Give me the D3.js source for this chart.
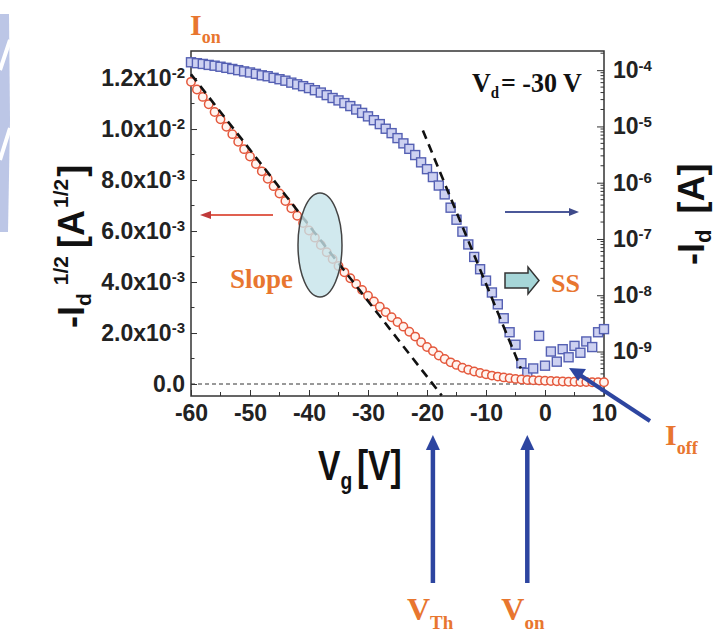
<!DOCTYPE html>
<html>
<head>
<meta charset="utf-8">
<script src="https://cdn.jsdelivr.net/npm/d3@7"></script>
<style>
  body { margin: 0; background: #fff; }
  svg text { font-family: "Liberation Sans", Arial, sans-serif; font-weight: bold; }
  svg text.serif { font-family: "Liberation Serif", "Times New Roman", serif; }
</style>
</head>
<body>
<script>

// ---------- data

// gate voltage sweep [V]
var vg = [-60, -59, -58, -57, -56, -55, -54, -53, -52, -51,
          -50, -49, -48, -47, -46, -45, -44, -43, -42, -41,
          -40, -39, -38, -37, -36, -35, -34, -33, -32, -31,
          -30, -29, -28, -27, -26, -25, -24, -23, -22, -21,
          -20, -19, -18, -17, -16, -15, -14, -13, -12, -11,
          -10,  -9,  -8,  -7,  -6,  -5,  -4,  -3,  -2,  -1,
            0,   1,   2,   3,   4,   5,   6,   7,   8,   9, 10];

// -Id^(1/2) [A^1/2], left axis (red circles)
var sqrtId = [11.85e-3, 11.55e-3, 11.26e-3, 10.97e-3, 10.67e-3, 10.38e-3, 10.09e-3, 9.80e-3, 9.50e-3, 9.21e-3,
              8.92e-3, 8.63e-3, 8.34e-3, 8.05e-3, 7.76e-3, 7.47e-3, 7.18e-3, 6.89e-3, 6.60e-3, 6.31e-3,
              6.02e-3, 5.74e-3, 5.45e-3, 5.17e-3, 4.90e-3, 4.63e-3, 4.38e-3, 4.15e-3, 3.92e-3, 3.69e-3,
              3.46e-3, 3.24e-3, 3.03e-3, 2.82e-3, 2.62e-3, 2.43e-3, 2.25e-3, 2.05e-3, 1.86e-3, 1.64e-3,
              1.45e-3, 1.29e-3, 1.12e-3, 0.98e-3, 0.85e-3, 0.75e-3, 0.64e-3, 0.56e-3, 0.49e-3, 0.43e-3,
              0.38e-3, 0.33e-3, 0.29e-3, 0.26e-3, 0.23e-3, 0.20e-3, 0.18e-3, 0.16e-3, 0.15e-3, 0.14e-3,
              0.13e-3, 0.12e-3, 0.11e-3, 0.10e-3, 0.09e-3, 0.09e-3, 0.08e-3, 0.08e-3, 0.07e-3, 0.07e-3, 0.07e-3];

// -Id [A], right log axis (blue squares)
var id = [1.38e-4, 1.33e-4, 1.29e-4, 1.24e-4, 1.20e-4, 1.15e-4, 1.10e-4, 1.05e-4, 1.00e-4, 9.5e-5,
          9.1e-5, 8.6e-5, 8.1e-5, 7.8e-5, 7.3e-5, 6.9e-5, 6.5e-5, 6.0e-5, 5.6e-5, 5.2e-5,
          4.8e-5, 4.4e-5, 4.0e-5, 3.6e-5, 3.2e-5, 2.9e-5, 2.6e-5, 2.3e-5, 2.0e-5, 1.74e-5,
          1.51e-5, 1.29e-5, 1.10e-5, 9.1e-6, 7.6e-6, 6.2e-6, 5.0e-6, 4.0e-6, 3.1e-6, 2.3e-6,
          1.74e-6, 1.26e-6, 8.9e-7, 6.2e-7, 3.6e-7, 2.2e-7, 1.35e-7, 8.0e-8, 4.8e-8, 2.9e-8,
          1.82e-8, 1.12e-8, 6.9e-9, 3.9e-9, 2.2e-9, 1.32e-9, 6.2e-10, 4.2e-10, 5.0e-10, 1.9e-9,
          5.6e-10, 1.0e-9, 6.6e-10, 1.1e-9, 7.9e-10, 1.26e-9, 9.5e-10, 1.51e-9, 1.2e-9, 2.2e-9, 2.5e-9];

// fitted lines: linear fit of sqrt(Id) and subthreshold fit of log(Id)
var fitSqrt = [[-60, 12.15e-3], [-17.5, -0.45e-3]];
var fitSS = [[-20.7, 8.5e-6], [-4.1, 5.0e-10]];
var vTh = -19;
var vOn = -3;

// ticks
var xTicks = [-60, -50, -40, -30, -20, -10, 0, 10];
var xMinor = [-55, -45, -35, -25, -15, -5, 5];
var leftTicks = [0, 2e-3, 4e-3, 6e-3, 8e-3, 1.0e-2, 1.2e-2];
var leftMant = ["0.0", "2.0x10", "4.0x10", "6.0x10", "8.0x10", "1.0x10", "1.2x10"];
var leftExp = ["", "-3", "-3", "-3", "-3", "-2", "-2"];
var leftMinor = [1e-3, 3e-3, 5e-3, 7e-3, 9e-3, 1.1e-2];
var rightTicks = [1e-4, 1e-5, 1e-6, 1e-7, 1e-8, 1e-9];
var rightExp = ["-4", "-5", "-6", "-7", "-8", "-9"];

// ---------- layout
var w = 728, h = 634;
var orange = "#e8762f";

var svg = d3.select("body").append("svg")
            .attr("width", w)
            .attr("height", h);

var xScale = d3.scaleLinear().domain([-60, 10]).range([191, 604]);
var yLeft = d3.scaleLinear().domain([-0.47e-3, 13.06e-3]).range([396, 51]);
var yRight = d3.scaleLog().domain([1.62e-10, 2.19e-4]).range([396, 51]);

// watermark strip on the left edge
svg.append("path")
   .attr("d", "M0,14 L9,14 L10,120 L8,232 L0,232 Z")
   .attr("fill", "#bcc6e6");
svg.append("path")
   .attr("d", "M0,70 L10,40 M0,160 L10,128")
   .attr("stroke", "#fff").attr("stroke-width", 4);

// frame
svg.append("rect")
   .attr("x", 191).attr("y", 51)
   .attr("width", 413).attr("height", 345)
   .attr("fill", "none")
   .attr("stroke", "#333")
   .attr("stroke-width", 1.5);

// bottom axis
var gx = svg.append("g")
   .attr("transform", "translate(0,396)")
   .call(d3.axisBottom(xScale).tickValues(xTicks).tickSize(-6).tickPadding(9).tickFormat(d3.format("d")));
gx.selectAll(".tick text").attr("font-size", 23).attr("fill", "#222")
  .text(function(d) { return d < 0 ? "-" + Math.abs(d) : d; });
gx.append("g").selectAll("line").data(xMinor).enter().append("line")
  .attr("x1", function(d) { return xScale(d); }).attr("x2", function(d) { return xScale(d); })
  .attr("y1", 0).attr("y2", -4).attr("stroke", "#333");

// left axis
var gl = svg.append("g")
   .attr("transform", "translate(191,0)")
   .call(d3.axisLeft(yLeft).tickValues(leftTicks).tickSize(-6).tickPadding(6));
gl.selectAll(".tick text").attr("font-size", 23).attr("fill", "#222").text(null)
  .each(function(d, i) {
    var t = d3.select(this);
    t.append("tspan").text(leftMant[i]);
    if (leftExp[i]) t.append("tspan").attr("dy", "-0.5em").attr("font-size", 15).text(leftExp[i]);
  });
gl.append("g").selectAll("line").data(leftMinor).enter().append("line")
  .attr("y1", function(d) { return yLeft(d); }).attr("y2", function(d) { return yLeft(d); })
  .attr("x1", 0).attr("x2", 3.5).attr("stroke", "#333");

// right log axis
var gr = svg.append("g")
   .attr("transform", "translate(604,0)")
   .call(d3.axisRight(yRight).tickValues(rightTicks).tickSize(-7).tickPadding(9));
gr.selectAll(".tick text").attr("font-size", 23).attr("fill", "#222").text(null)
  .each(function(d, i) {
    var t = d3.select(this);
    t.append("tspan").text("10");
    t.append("tspan").attr("dy", "-0.5em").attr("font-size", 15).text(rightExp[i]);
  });
var rightMinor = [];
[1e-10, 1e-9, 1e-8, 1e-7, 1e-6, 1e-5, 1e-4].forEach(function(dec) {
  [2, 3, 4, 5, 6, 7, 8, 9].forEach(function(m) {
    var v = dec * m;
    if (v > yRight.domain()[0] && v < yRight.domain()[1]) rightMinor.push(v);
  });
});
gr.append("g").selectAll("line").data(rightMinor).enter().append("line")
  .attr("y1", function(d) { return yRight(d); }).attr("y2", function(d) { return yRight(d); })
  .attr("x1", 0).attr("x2", -3.5).attr("stroke", "#333");

[gx, gl, gr].forEach(function(g) {
  g.select(".domain").remove();
  g.selectAll(".tick line").attr("stroke", "#333");
});

// zero line
svg.append("line")
   .attr("x1", 191).attr("x2", 604)
   .attr("y1", yLeft(0)).attr("y2", yLeft(0))
   .attr("stroke", "#333")
   .attr("stroke-dasharray", "4,3");

// blue squares (log Id)
var sq = 9;
svg.append("g").selectAll("rect")
   .data(vg)
   .enter()
   .append("rect")
   .attr("x", function(d) { return xScale(d) - sq / 2; })
   .attr("y", function(d, i) { return yRight(id[i]) - sq / 2; })
   .attr("width", sq).attr("height", sq)
   .attr("fill", "#cdd1f1")
   .attr("stroke", "#5560b3")
   .attr("stroke-width", 1.4);

// red circles (sqrt Id)
svg.append("g").selectAll("circle")
   .data(vg)
   .enter()
   .append("circle")
   .attr("cx", function(d) { return xScale(d); })
   .attr("cy", function(d, i) { return yLeft(sqrtId[i]); })
   .attr("r", 4.2)
   .attr("fill", "#fff4f0")
   .attr("stroke", "#e4583c")
   .attr("stroke-width", 1.5);

// fit lines
var lineL = d3.line().x(function(d) { return xScale(d[0]); }).y(function(d) { return yLeft(d[1]); });
var lineR = d3.line().x(function(d) { return xScale(d[0]); }).y(function(d) { return yRight(d[1]); });
svg.append("path").attr("d", lineL(fitSqrt))
   .attr("fill", "none").attr("stroke", "#111").attr("stroke-width", 2.6).attr("stroke-dasharray", "9,6");
svg.append("path").attr("d", lineR(fitSS))
   .attr("fill", "none").attr("stroke", "#111").attr("stroke-width", 2.6).attr("stroke-dasharray", "9,6");

// ---------- annotations

// slope ellipse
svg.append("ellipse")
   .attr("cx", 320).attr("cy", 245).attr("rx", 22).attr("ry", 52)
   .attr("fill", "#c6e4ea").attr("fill-opacity", 0.8)
   .attr("stroke", "#444").attr("stroke-width", 1.5);

svg.append("text").attr("class", "serif")
   .attr("x", 230).attr("y", 288)
   .attr("font-size", 27).attr("fill", orange)
   .text("Slope");

// small left / right arrows
svg.append("line").attr("x1", 273).attr("x2", 206).attr("y1", 215).attr("y2", 215)
   .attr("stroke", "#e06050").attr("stroke-width", 2);
svg.append("path").attr("d", "M200,215 L211,211 L211,219 Z").attr("fill", "#c03a3a");
svg.append("line").attr("x1", 505).attr("x2", 572).attr("y1", 212).attr("y2", 212)
   .attr("stroke", "#4b5899").attr("stroke-width", 2);
svg.append("path").attr("d", "M579,212 L569,208 L569,216 Z").attr("fill", "#3e4a8a");

// SS block arrow
svg.append("path")
   .attr("d", "M505,273 L528,273 L528,267 L539,280.5 L528,294 L528,288 L505,288 Z")
   .attr("fill", "#a6d6d8").attr("stroke", "#333").attr("stroke-width", 1.5);
svg.append("text").attr("class", "serif")
   .attr("x", 551).attr("y", 292)
   .attr("font-size", 26).attr("fill", orange)
   .text("SS");

// Vd label
var vd = svg.append("text").attr("class", "serif")
   .attr("transform", "translate(472,92) scale(0.93,1)")
   .attr("font-size", 28).attr("fill", "#111");
vd.append("tspan").text("V");
vd.append("tspan").attr("font-size", 16).attr("dy", 6).text("d");
vd.append("tspan").attr("dy", -6).attr("dx", 2).text("= -30 V");

// Ion
var ion = svg.append("text").attr("class", "serif")
   .attr("x", 190).attr("y", 35).attr("font-size", 30).attr("fill", orange);
ion.append("tspan").text("I");
ion.append("tspan").attr("font-size", 18).attr("dy", 8).text("on");

// Ioff arrow + label
svg.append("line").attr("x1", 650).attr("y1", 421).attr("x2", 580).attr("y2", 375)
   .attr("stroke", "#2d45a0").attr("stroke-width", 4);
svg.append("path").attr("d", "M569,368 L586,369 L578,381 Z").attr("fill", "#2d45a0");
var ioff = svg.append("text").attr("class", "serif")
   .attr("x", 665).attr("y", 445).attr("font-size", 30).attr("fill", orange);
ioff.append("tspan").text("I");
ioff.append("tspan").attr("font-size", 18).attr("dy", 9).text("off");

// Vth / Von arrows
[[vTh, "Th"], [vOn, "on"]].forEach(function(a) {
  var x = xScale(a[0]);
  svg.append("line").attr("x1", x).attr("x2", x).attr("y1", 583).attr("y2", 447)
     .attr("stroke", "#2d45a0").attr("stroke-width", 4.5);
  svg.append("path").attr("d", "M" + x + ",435 L" + (x + 7) + ",450 L" + (x - 7) + ",450 Z")
     .attr("fill", "#2d45a0");
  var t = svg.append("text").attr("class", "serif")
     .attr("x", x - 26).attr("y", 620).attr("font-size", 32).attr("fill", orange);
  t.append("tspan").text("V");
  t.append("tspan").attr("font-size", 19).attr("dy", 9).text(a[1]);
});

// axis titles
var xt = svg.append("text")
   .attr("transform", "translate(318,480) scale(0.8,1)")
   .attr("font-size", 42).attr("fill", "#111");
xt.append("tspan").text("V");
xt.append("tspan").attr("font-size", 24).attr("dy", 9).text("g");
xt.append("tspan").attr("dy", -9).attr("dx", 6).text("[V]");

var yl = svg.append("text")
   .attr("transform", "translate(84,328) rotate(-90)")
   .attr("font-size", 36).attr("fill", "#111");
yl.append("tspan").text("-I");
yl.append("tspan").attr("font-size", 21).attr("dy", 7).text("d");
yl.append("tspan").attr("font-size", 21).attr("dy", -23).attr("dx", 8).text("1/2");
yl.append("tspan").attr("dy", 16).attr("dx", 8).text("[A");
yl.append("tspan").attr("font-size", 21).attr("dy", -16).attr("dx", 2).text("1/2");
yl.append("tspan").attr("dy", 16).attr("dx", 2).text("]");

var yr = svg.append("text")
   .attr("transform", "translate(704,265) rotate(-90)")
   .attr("font-size", 36).attr("fill", "#111");
yr.append("tspan").text("-I");
yr.append("tspan").attr("font-size", 22).attr("dy", 7).text("d");
yr.append("tspan").attr("dy", -7).attr("dx", 16).text("[A]");

</script>
</body>
</html>
